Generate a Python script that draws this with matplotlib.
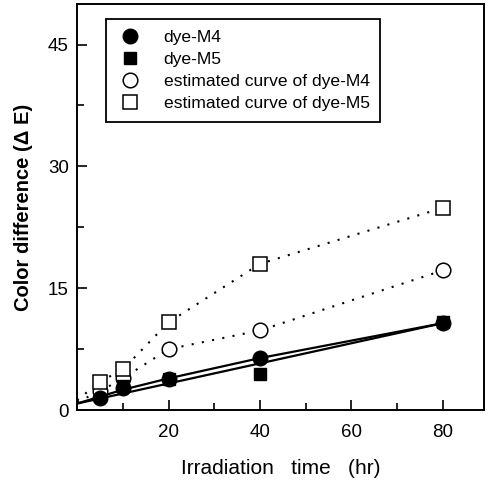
import matplotlib
matplotlib.use("Agg")
import matplotlib.pyplot as plt
from matplotlib.ticker import MultipleLocator

plt.rcParams['font.family'] = ['Liberation Sans', 'DejaVu Sans']

# Measured data
time_m4 = [5, 10, 20, 40, 80]
de_m4 = [1.5, 2.7, 3.8, 6.4, 10.7]
time_m5 = [10, 20, 40, 80]
de_m5 = [2.9, 3.8, 4.4, 10.8]

# Estimated curves
time_est = [5, 10, 20, 40, 80]
est_m4 = [2.3, 3.9, 7.5, 9.8, 17.2]
est_m5 = [3.5, 5.0, 10.8, 18.0, 24.9]

# Fitted solid lines
fit_x_m4 = [0, 10, 20, 40, 80]
fit_y_m4 = [0.8, 2.5, 3.9, 6.4, 10.7]
fit_x_m5 = [0, 80]
fit_y_m5 = [0.8, 10.7]

# Dotted line start
dot_x_start = [0, 5]
dot_m4_start = [1.0, 2.3]
dot_m5_start = [1.2, 3.5]

fig = plt.figure(figsize=(4.91, 4.87), dpi=100)
ax = fig.add_axes([0.157, 0.158, 0.829, 0.834])

dot_style = (0, (1, 4))
ax.plot(fit_x_m4, fit_y_m4, '-', color='black', lw=1.6, zorder=2)
ax.plot(fit_x_m5, fit_y_m5, '-', color='black', lw=1.6, zorder=2)
ax.plot(dot_x_start, dot_m4_start, ls=dot_style, color='black', lw=1.5, zorder=1)
ax.plot(dot_x_start, dot_m5_start, ls=dot_style, color='black', lw=1.5, zorder=1)
ax.plot(time_est, est_m4, ls=dot_style, color='black', lw=1.5, zorder=1)
ax.plot(time_est, est_m5, ls=dot_style, color='black', lw=1.5, zorder=1)

ax.plot(time_m4, de_m4, 'o', color='black', ms=10.5, ls='none', label='dye-M4', zorder=4)
ax.plot(time_m5, de_m5, 's', color='black', ms=9, ls='none', label='dye-M5', zorder=4)
ax.plot(time_est, est_m4, 'o', mfc='white', mec='black', mew=1.1, ms=10.5, ls='none',
        label='estimated curve of dye-M4', zorder=3)
ax.plot(time_est, est_m5, 's', mfc='white', mec='black', mew=1.1, ms=9.5, ls='none',
        label='estimated curve of dye-M5', zorder=3)

ax.set_xlim(0, 89)
ax.set_ylim(0, 50)
ax.set_xticks([20, 40, 60, 80])
ax.xaxis.set_minor_locator(MultipleLocator(10))
ax.set_yticks([0, 15, 30, 45])
ax.yaxis.set_minor_locator(MultipleLocator(7.5))
ax.tick_params(which='both', direction='in', labelsize=13.5, width=1.2)
ax.tick_params(which='major', length=7)
ax.tick_params(which='minor', length=5)
ax.tick_params(axis='x', pad=10)
ax.tick_params(axis='y', pad=6)
for s in ax.spines.values():
    s.set_linewidth(1.4)

ax.set_xlabel('Irradiation   time   (hr)', fontsize=15, labelpad=13)
ax.set_ylabel('Color difference (Δ E)', fontsize=14.5, fontweight='bold', labelpad=11)

leg = ax.legend(loc='upper left', bbox_to_anchor=(0.071, 0.963), borderaxespad=0,
                fontsize=12.6, frameon=True, fancybox=False, edgecolor='black', framealpha=1,
                handletextpad=1.1, borderpad=0.6, labelspacing=0.4, handlelength=1.6)
leg.get_frame().set_linewidth(1.3)

fig.savefig('out.png', dpi=100)
